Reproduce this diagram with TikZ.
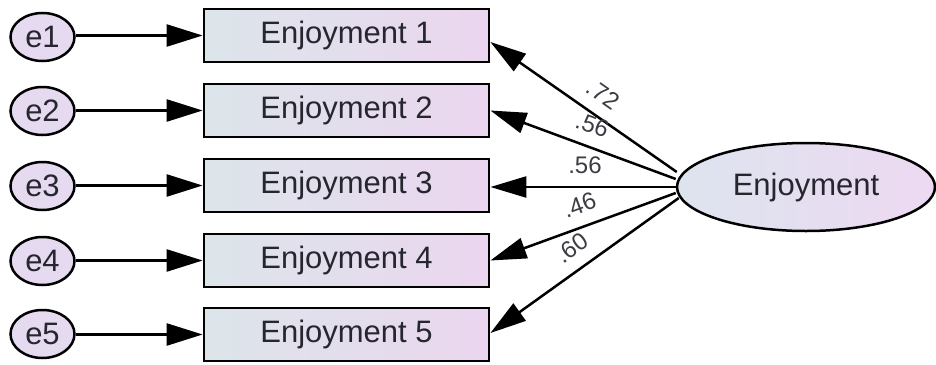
\documentclass[tikz,border=0pt]{standalone}
\usepackage{fontspec}
\setmainfont{Liberation Sans}
\usetikzlibrary{arrows.meta,shapes.geometric}

\definecolor{inktext}{HTML}{26262F}
\definecolor{boxleft}{HTML}{DCE5EA}
\definecolor{boxright}{HTML}{EBD6EF}
\definecolor{errfill}{HTML}{E6DAF0}
\definecolor{latleft}{HTML}{DDE4EE}
\definecolor{latright}{HTML}{EDD9F2}

\tikzset{
  indicator/.style={draw=black, line width=2.8pt, minimum width=285pt, minimum height=53pt,
    inner sep=0pt, left color=boxleft, right color=boxright, text=inktext,
    font=\fontsize{31}{36}\selectfont},
  errterm/.style={shape=ellipse, draw=black, line width=2.5pt, minimum width=64pt, minimum height=48pt,
    inner sep=0pt, fill=errfill, text=inktext, font=\fontsize{31}{36}\selectfont},
  latent/.style={shape=ellipse, draw=black, line width=2.5pt, minimum width=258pt, minimum height=88pt,
    inner sep=0pt, left color=latleft, right color=latright, text=inktext,
    font=\fontsize{31}{36}\selectfont},
  errpath/.style={draw=black, line width=2.5pt, -{Triangle[length=36pt, width=22pt]}},
  loadpath/.style={draw=black, line width=2.5pt, {Triangle[length=36pt, width=21pt]}-},
  loading/.style={sloped, above=10pt, inner sep=2pt, text=inktext!90,
    font=\fontsize{24}{27}\selectfont},
}

\begin{document}
\begin{tikzpicture}[x=1pt, y=-1pt]
  \useasboundingbox (0,0) rectangle (936,364);

  % observed indicators
  \node[indicator] (b1) at (346.5, 35.5) {Enjoyment 1};
  \node[indicator] (b2) at (346.5,110.5) {Enjoyment 2};
  \node[indicator] (b3) at (346.5,185.5) {Enjoyment 3};
  \node[indicator] (b4) at (346.5,260.5) {Enjoyment 4};
  \node[indicator] (b5) at (346.5,334.5) {Enjoyment 5};

  % error terms
  \node[errterm] (e1) at (42.5, 37) {e1};
  \node[errterm] (e2) at (42.5,111) {e2};
  \node[errterm] (e3) at (42.5,186) {e3};
  \node[errterm] (e4) at (42.5,261) {e4};
  \node[errterm] (e5) at (42.5,334) {e5};

  % latent factor
  \node[latent] (lat) at (806,187) {Enjoyment};

  % error paths
  \foreach \i in {1,...,5}
    \draw[errpath] (e\i.east |- b\i.west) -- (b\i.west);

  % factor loadings
  \draw[loadpath] ([yshift=-6.5pt]b1.east) -- node[loading, pos=0.54] {.72} ([xshift=1pt,yshift=15pt]lat.west);
  \draw[loadpath] ([yshift=0pt]b2.east) -- node[loading, pos=0.51] {.56} ([yshift=8pt]lat.west);
  \draw[loadpath] ([yshift=-1.5pt]b3.east) -- node[loading, pos=0.51] {.56} (lat.west);
  \draw[loadpath] ([yshift=0pt]b4.east) -- node[loading, pos=0.52] {.46} ([yshift=-6pt]lat.west);
  \draw[loadpath] ([yshift=1.5pt]b5.east) -- node[loading, pos=0.50] {.60} ([xshift=3pt,yshift=-11pt]lat.west);
\end{tikzpicture}
\end{document}
